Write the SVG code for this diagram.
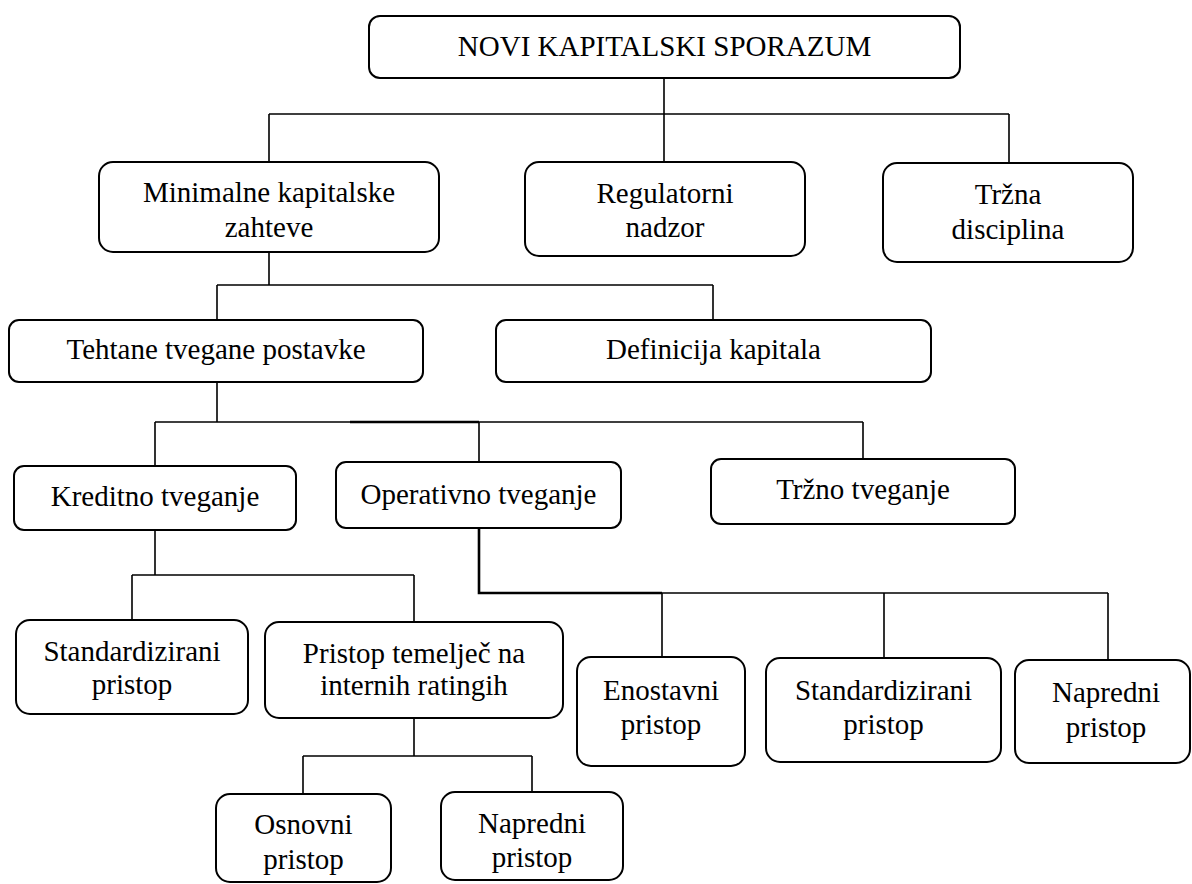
<svg xmlns="http://www.w3.org/2000/svg" width="1192" height="884" viewBox="0 0 1192 884">
<style>
.box{fill:#fff;stroke:#000;stroke-width:2}
.t{font-family:'Liberation Serif','Times New Roman','DejaVu Serif',serif;font-size:29px;fill:#000;text-anchor:middle}
.c{fill:none;stroke:#000;stroke-width:1.6}
.ct{fill:none;stroke:#000;stroke-width:2.6}
</style>
<rect width="1192" height="884" fill="#fff"/>
<g id="connectors">
<path class="c" d="M664 78V114M269 114H1009M269 114V162M664 114V162M1009 114V163"/>
<path class="c" d="M269 252V285M217 285H713M217 285V320M713 285V320"/>
<path class="c" d="M217 382V422M155 422H863M155 422V466M479 422V462M863 422V459"/>
<path class="ct" d="M350 422H479"/>
<path class="c" d="M155 530V575M132 575H414M132 575V620M414 575V622"/>
<path class="ct" d="M479 528V593H662"/>
<path class="c" d="M662 593H1108M662 593V657M884 593V658M1108 593V660"/>
<path class="c" d="M414 717V756M303 756H532M303 756V794M532 756V792"/>
</g>
<g id="n-root"><rect class="box" x="369" y="16" width="591" height="62" rx="11"/><text class="t" x="664.5" y="56">NOVI KAPITALSKI SPORAZUM</text></g>
<g id="n-min"><rect class="box" x="99" y="162" width="340" height="90" rx="14"/><text class="t" x="269" y="202">Minimalne kapitalske</text><text class="t" x="269" y="237">zahteve</text></g>
<g id="n-reg"><rect class="box" x="525" y="162" width="280" height="94" rx="14"/><text class="t" x="665" y="203">Regulatorni</text><text class="t" x="665" y="237">nadzor</text></g>
<g id="n-trz"><rect class="box" x="883" y="163" width="250" height="99" rx="14"/><text class="t" x="1008" y="204">Tržna</text><text class="t" x="1008" y="239">disciplina</text></g>
<g id="n-teh"><rect class="box" x="9" y="320" width="414" height="62" rx="10"/><text class="t" x="216" y="359">Tehtane tvegane postavke</text></g>
<g id="n-def"><rect class="box" x="496" y="320" width="435" height="62" rx="10"/><text class="t" x="713.5" y="359">Definicija kapitala</text></g>
<g id="n-kred"><rect class="box" x="14" y="466" width="282" height="64" rx="10"/><text class="t" x="155" y="506">Kreditno tveganje</text></g>
<g id="n-oper"><rect class="box" x="336" y="462" width="285" height="66" rx="10"/><text class="t" x="478.5" y="504">Operativno tveganje</text></g>
<g id="n-trzt"><rect class="box" x="711" y="459" width="304" height="65" rx="10"/><text class="t" x="863" y="499">Tržno tveganje</text></g>
<g id="n-std1"><rect class="box" x="16" y="620" width="232" height="94" rx="14"/><text class="t" x="132" y="661">Standardizirani</text><text class="t" x="132" y="694">pristop</text></g>
<g id="n-irb"><rect class="box" x="265" y="622" width="298" height="96" rx="14"/><text class="t" x="414" y="663">Pristop temelječ na</text><text class="t" x="414" y="695">internih ratingih</text></g>
<g id="n-eno"><rect class="box" x="577" y="657" width="168" height="109" rx="14"/><text class="t" x="661" y="700">Enostavni</text><text class="t" x="661" y="734">pristop</text></g>
<g id="n-std2"><rect class="box" x="766" y="658" width="235" height="104" rx="14"/><text class="t" x="883.5" y="700">Standardizirani</text><text class="t" x="883.5" y="734">pristop</text></g>
<g id="n-nap2"><rect class="box" x="1015" y="660" width="175" height="103" rx="14"/><text class="t" x="1106" y="702">Napredni</text><text class="t" x="1106" y="737">pristop</text></g>
<g id="n-osn"><rect class="box" x="216" y="794" width="175" height="88" rx="14"/><text class="t" x="303.5" y="834">Osnovni</text><text class="t" x="303.5" y="869">pristop</text></g>
<g id="n-nap1"><rect class="box" x="441" y="792" width="182" height="88" rx="14"/><text class="t" x="532" y="833">Napredni</text><text class="t" x="532" y="867">pristop</text></g>
</svg>
